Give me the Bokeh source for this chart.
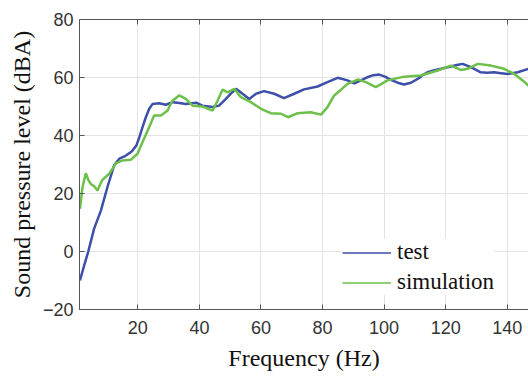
from bokeh.plotting import figure
from bokeh.models import Range1d, LinearAxis, Legend, LegendItem, FixedTicker, CustomJSTickFormatter
from bokeh.embed import file_html
from bokeh.resources import INLINE

test_f = [1.2, 2.6, 3.9, 5.8, 8.0, 10.2, 12.3, 14.0, 16.0, 18.0, 19.5, 20.5, 21.5, 22.6, 23.7,
          24.8, 26.9, 29.1, 31.3, 33.5, 35.6, 38.9, 41.0, 44.3, 46.4, 48.6, 50.3, 51.9, 54.0,
          56.2, 58.4, 61.0, 64.3, 67.5, 70.8, 74.0, 78.4, 81.6, 84.9, 88.1, 90.3, 92.5, 94.6,
          96.5, 98.4, 100.3, 102.2, 104.4, 106.5, 108.7, 110.9, 112.5, 114.1, 116.3, 118.5,
          121.7, 123.6, 125.5, 128.2, 131.4, 133.6, 135.8, 138.0, 140.1, 143.4, 146.9]
test_v = [-10, -4.7, 0, 7.9, 14.1, 22.5, 29.7, 32, 33, 34.5, 36.5, 39.4, 42.8, 46.3, 49.2,
          50.9, 51.1, 50.6, 51.5, 51.2, 50.9, 51.3, 50.3, 49.8, 50.3, 52.6, 54.5, 56.1, 54.4,
          52.6, 54.4, 55.3, 54.4, 52.9, 54.4, 55.9, 56.9, 58.4, 59.9, 59.0, 58.0, 59.0, 60.1,
          60.8, 61.0, 60.3, 59.2, 58.2, 57.6, 58.2, 59.5, 60.8, 61.8, 62.5, 63.0,
          63.8, 64.3, 64.7, 63.6, 61.8, 61.6, 61.8, 61.5, 61.2, 61.8, 63.0]

sim_f = [1.2, 2.0, 3.1, 4.0, 4.7, 5.8, 6.9, 7.7, 8.5, 10.7, 12.9, 15.0, 17.7, 19.9, 21.5,
         23.7, 25.3, 27.5, 29.7, 30.5, 31.3, 33.4, 35.6, 37.8, 41.0, 44.3, 45.9, 47.5, 49.2,
         51.3, 53.5, 56.7, 60.0, 63.2, 66.5, 68.8, 71.9, 76.2, 79.5, 81.6, 83.8, 86.0, 88.1,
         91.4, 94.1, 97.3, 101.1, 106.5, 111.9, 117.4, 121.7, 124.9, 127.1, 130.4, 134.7,
         139.0, 142.3, 145.0, 146.9]
sim_v = [14.7, 22, 27, 24.5, 23.3, 22.5, 21, 23, 24.7, 26.8, 30.4, 31.4, 31.6, 33.7, 37.7,
         42.9, 46.9, 46.9, 48.6, 50.5, 52, 53.8, 52.6, 50.3, 50.0, 48.6, 52, 55.8, 54.9,
         56.1, 53.2, 51.5, 49.2, 47.7, 47.5, 46.3, 47.7, 48.0, 47.2, 49.8, 53.8, 55.8, 57.8,
         59.3, 58.4, 56.7, 59.0, 60.3, 60.7, 62.4, 64.1, 62.6, 63.0, 64.7, 64.1,
         63.0, 61.2, 59.0, 57.2]

x_ticks = [20, 40, 60, 80, 100, 120, 140]
y_ticks = [-20, 0, 20, 40, 60, 80]

BLUE = "#3d4fa8"
GREEN = "#6cc04a"
AXC = "#555555"
NAN = float("nan")

p = figure(width=528, height=376, output_backend="svg", toolbar_location=None,
           x_range=Range1d(1.05, 146.9), y_range=Range1d(-20, 80),
           min_border_left=79, min_border_right=0, min_border_top=19, min_border_bottom=67)
p.outline_line_color = None
p.background_fill_color = "white"

r1 = p.line(test_f, test_v, line_color=BLUE, line_width=2.5)
r2 = p.line(sim_f, sim_v, line_color=GREEN, line_width=2.5)
d1 = p.line([NAN], [NAN], line_color=BLUE, line_width=1.5)
d2 = p.line([NAN], [NAN], line_color=GREEN, line_width=1.5)

for ax, ticks in ((p.xaxis[0], x_ticks), (p.yaxis[0], y_ticks)):
    ax.ticker = FixedTicker(ticks=ticks)
    ax.minor_tick_line_color = None
    ax.major_tick_in = 5
    ax.major_tick_out = 0
    ax.axis_line_color = AXC
    ax.major_tick_line_color = AXC
    ax.major_label_text_font = "Liberation Sans"
    ax.major_label_text_font_size = "18px"
    ax.major_label_text_color = "#333333"
    ax.axis_label_text_font = "Liberation Serif"
    ax.axis_label_text_font_size = "24px"
    ax.axis_label_text_font_style = "normal"
    ax.axis_label_text_color = "#111111"

p.xaxis[0].axis_label = "Frequency (Hz)"
p.yaxis[0].axis_label = "Sound pressure level (dBA)"
p.xaxis[0].major_label_standoff = 11
p.yaxis[0].major_label_standoff = 6
p.xaxis[0].axis_label_standoff = 8
p.yaxis[0].axis_label_standoff = 5

top = LinearAxis(ticker=FixedTicker(ticks=x_ticks), major_tick_in=5, major_tick_out=0,
                 minor_tick_line_color=None, axis_line_color=AXC, major_tick_line_color=AXC,
                 formatter=CustomJSTickFormatter(code="return ''"),
                 major_label_standoff=0, major_label_text_font_size="10px")
p.add_layout(top, "above")

for g in (p.xgrid[0], p.ygrid[0]):
    g.grid_line_color = "#e3e3e3"
    g.grid_line_width = 1
p.xgrid[0].ticker = FixedTicker(ticks=x_ticks)
p.ygrid[0].ticker = FixedTicker(ticks=y_ticks)

legend = Legend(items=[LegendItem(label="test", renderers=[d1]),
                       LegendItem(label="simulation", renderers=[d2])],
                location=(263, 14), padding=0, margin=0, spacing=4,
                glyph_width=49, glyph_height=25, label_height=25, label_standoff=6,
                label_text_font="Liberation Serif", label_text_font_size="23px",
                label_text_color="#111111", border_line_color=None,
                background_fill_color="white", background_fill_alpha=1.0)
p.add_layout(legend, "center")

open("out.html", "w").write(file_html(p, INLINE))
